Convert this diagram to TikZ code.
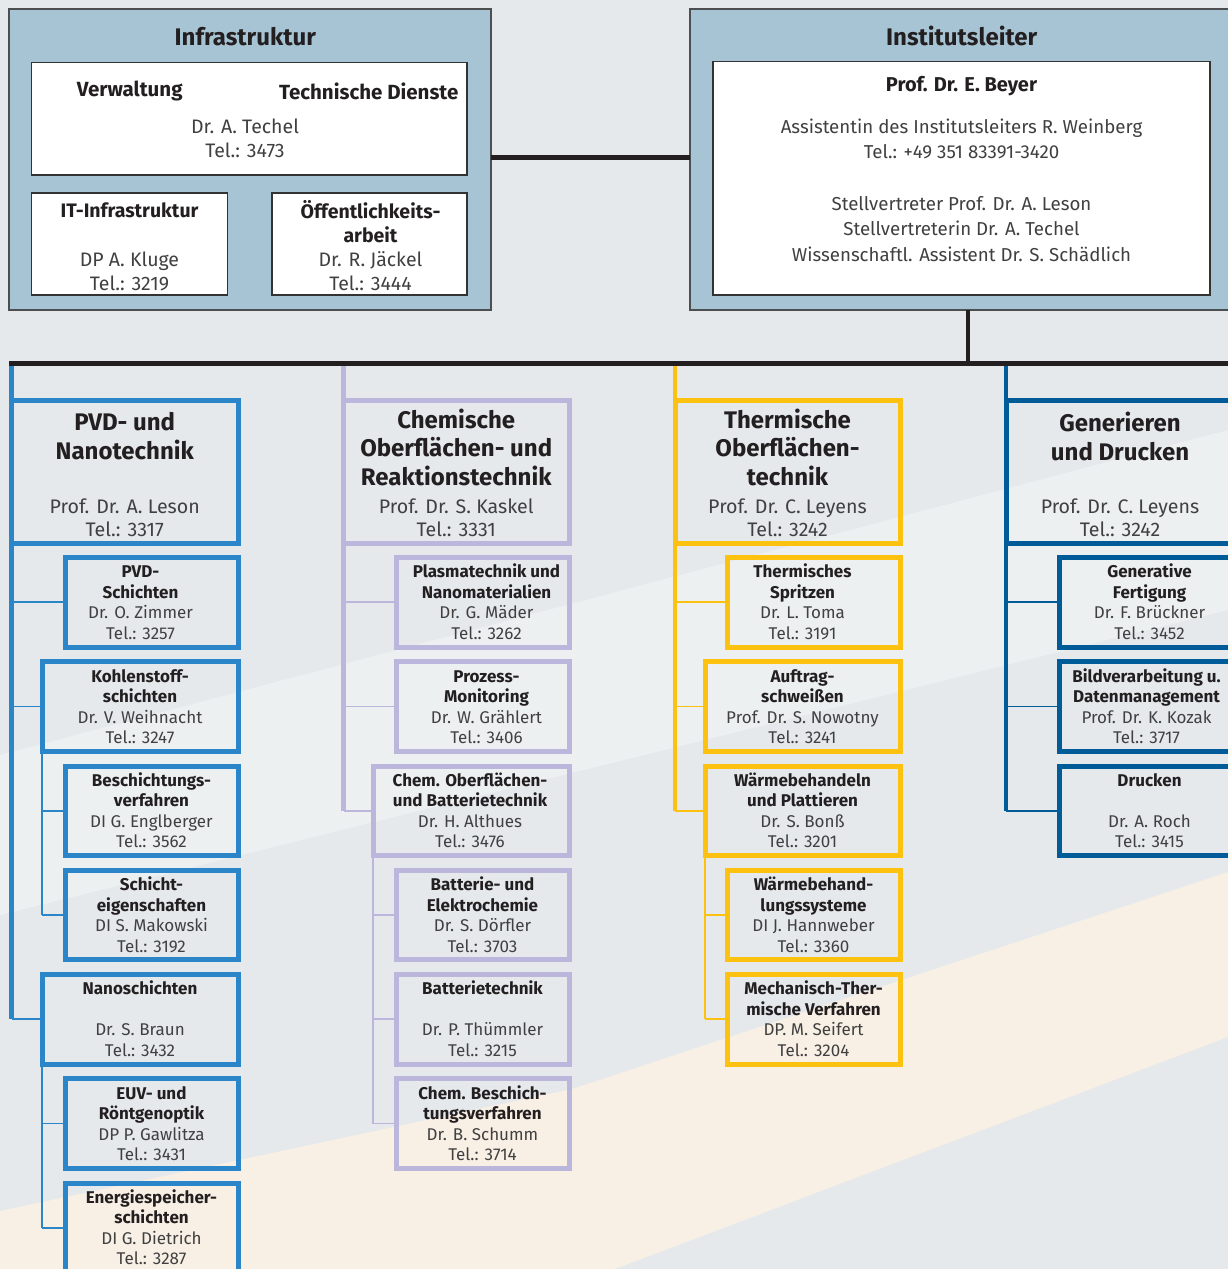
\documentclass[tikz,border=0pt]{standalone}
\usepackage{fontspec}
\setmainfont{Fira Sans}
\usetikzlibrary{calc}
\definecolor{bg}{HTML}{E5E9EC}
\definecolor{bandw}{HTML}{EDF0F1}
\definecolor{beige}{HTML}{F8EFE5}
\definecolor{topfill}{HTML}{A7C4D5}
\definecolor{frame}{HTML}{4D4E50}
\definecolor{innerframe}{HTML}{333333}
\definecolor{cA}{HTML}{2A86C8}
\definecolor{cB}{HTML}{BBB6DC}
\definecolor{cC}{HTML}{FDC20F}
\definecolor{cD}{HTML}{005C98}
\definecolor{ink}{HTML}{231F20}
\definecolor{bodyc}{HTML}{404040}
\newcommand\tb[1]{{\bfseries\color{ink}#1}}
\tikzset{
  every node/.style={inner sep=0pt, outer sep=0pt},
  frameouter/.style={draw=frame, line width=2pt, fill=topfill},
  frameinner/.style={draw=innerframe, line width=1.8pt, fill=white},
  headbox/.style={draw=#1, line width=5pt},
  subbox/.style={draw=#1, line width=5pt},
  mainline/.style={draw=#1, line width=4.5pt},
  subline/.style={draw=#1, line width=2.7pt},
  branch/.style={draw=#1, line width=1.8pt},
  topconn/.style={draw=ink, line width=5pt},
  barline/.style={draw=ink, line width=5.5pt},
  vconn/.style={draw=ink, line width=4pt},
  toptitle/.style={font=\fontsize{24}{28}\selectfont\bfseries, text=ink},
  topbold/.style={font=\fontsize{20.5}{24}\selectfont\bfseries, text=ink},
  topbody/.style={font=\fontsize{19.5}{24.3}\selectfont, text=bodyc, align=center},
  instbody/.style={font=\fontsize{18.7}{25.6}\selectfont, text=bodyc, align=center},
  headtitle/.style={font=\fontsize{24}{28.5}\selectfont\bfseries, text=ink, align=center},
  headbody/.style={font=\fontsize{19.6}{23.4}\selectfont, text=bodyc, align=center},
  subtxt/.style={font=\fontsize{17}{20.5}\selectfont, text=bodyc, align=center}
}
% sub box: color, name, left, right, top, dx, text
\newcommand\ob[7]{%
  \node[subbox=#1, minimum width={#4-#3}, minimum height=89.5, anchor=north west] (#2) at (#3,#5) {};
  \node[subtxt] (#2t) at ([xshift=#6pt, yshift=-2.2pt]#2.center) {\strut#7\strut};
}
\begin{document}
\begin{tikzpicture}[x=1pt,y=-1pt]
\useasboundingbox (0,0) rectangle (1228,1269);
\clip (0,0) rectangle (1228,1269);
% background
\fill[bg] (0,0) rectangle (1228,1269);
\fill[bandw] (0,755) -- (1228,430) -- (1228,610) -- (0,915) -- cycle;
\fill[beige] (0,1211) -- (572,1089) -- (1228,872) -- (1228,1037) -- (615,1269) -- (0,1269) -- cycle;

% ---------- Infrastruktur ----------
\node[frameouter, minimum width=482, minimum height=300.5, anchor=north west] (infra) at (9,9) {};
\node[toptitle, anchor=base] (infraT) at (245.3,45.7) {Infrastruktur};
\node[frameinner, minimum width=435.8, minimum height=112.7, anchor=north west] (verw) at (31.5,62.5) {};
\node[topbold, anchor=base] (verwT) at (129.7,96.7) {Verwaltung};
\node[topbold, anchor=base] (techT) at (368.7,99) {Technische Dienste};
\node[topbody] (verwB) at (245,140.5) {\strut Dr. A. Techel\\Tel.: 3473\strut};
\node[frameinner, minimum width=196, minimum height=102.3, anchor=north west] (itb) at (31.5,193) {};
\node[topbody] (itT) at (129.5,249.1) {\strut\tb{IT-Infrastruktur}\\\mbox{}\\DP A. Kluge\\Tel.: 3219\strut};
\node[frameinner, minimum width=195.6, minimum height=102.3, anchor=north west] (oeff) at (271.7,193) {};
\node[topbody] (oeffT) at (370.5,249.1) {\strut\tb{Öffentlichkeits-}\\\tb{arbeit}\\Dr. R. Jäckel\\Tel.: 3444\strut};

% ---------- Institutsleiter ----------
\node[frameouter, minimum width=556, minimum height=300.5, anchor=north west] (inst) at (690.3,9) {};
\node[toptitle, anchor=base] (instT) at (961.7,45.7) {Institutsleiter};
\node[frameinner, minimum width=497, minimum height=233.2, anchor=north west] (instin) at (713,61.5) {};
\node[topbold, anchor=base, font=\fontsize{20}{24}\selectfont\bfseries] (beyer) at (961.5,91.7) {Prof. Dr. E. Beyer};
\node[instbody] (instB) at (961.5,192.2) {\strut Assistentin des Institutsleiters R. Weinberg\\Tel.: +49 351 83391-3420\\\mbox{}\\Stellvertreter Prof. Dr. A. Leson\\Stellvertreterin Dr. A. Techel\\Wissenschaftl. Assistent Dr. S. Schädlich\strut};

% ---------- top connectors ----------
\draw[topconn] ([yshift=1.75pt]infra.east) -- ([yshift=1.75pt]infra.east -| inst.west);
\coordinate (barL) at (9,363.5);
\coordinate (barR) at (1240,363.5);
\draw[vconn] (inst.south) -- (inst.south |- barL);

% ---------- Column A ----------
\coordinate (vA) at (11.5,363.5);
\node[headbox=cA, minimum width=226.5, minimum height=143, anchor=north west] (headA) at (11.5,400) {};
\node[headtitle] (headAT) at (124.75,439.25) {\strut PVD- und\\Nanotechnik\strut};
\node[headbody] (headAB) at (124.75,520.3) {\strut Prof. Dr. A. Leson\\Tel.: 3317\strut};
\ob{cA}{pvd}{65}{238}{557.5}{-11}{\tb{PVD-}\\\tb{Schichten}\\Dr. O. Zimmer\\Tel.: 3257}
\ob{cA}{kohl}{42}{238}{661.75}{0}{\tb{Kohlenstoff-}\\\tb{schichten}\\Dr. V. Weihnacht\\Tel.: 3247}
\ob{cA}{besch}{65}{238}{766}{0}{\tb{Beschichtungs-}\\\tb{verfahren}\\DI G. Englberger\\Tel.: 3562}
\ob{cA}{schicht}{65}{238}{870.25}{0}{\tb{Schicht-}\\\tb{eigenschaften}\\DI S. Makowski\\Tel.: 3192}
\ob{cA}{nano}{42}{238}{974.5}{0}{\tb{Nanoschichten}\\\mbox{}\\Dr. S. Braun\\Tel.: 3432}
\ob{cA}{euv}{65}{238}{1078.75}{0}{\tb{EUV- und}\\\tb{Röntgenoptik}\\DP P. Gawlitza\\Tel.: 3431}
\ob{cA}{energ}{65}{238}{1183}{0}{\tb{Energiespeicher-}\\\tb{schichten}\\DI G. Dietrich\\Tel.: 3287}
\draw[mainline=cA] (vA) -- (nano.west -| vA);
\foreach \n in {pvd,kohl,nano} \draw[branch=cA] (\n.west) -- (\n.west -| vA);
\draw[subline=cA] (kohl.south west) -- (schicht.west -| kohl.south west);
\foreach \n in {besch,schicht} \draw[branch=cA] (\n.west) -- (\n.west -| kohl.south west);
\draw[subline=cA] (nano.south west) -- (energ.west -| nano.south west);
\foreach \n in {euv,energ} \draw[branch=cA] (\n.west) -- (\n.west -| nano.south west);

% ---------- Column B ----------
\coordinate (vB) at (343.5,363.5);
\node[headbox=cB, minimum width=225.5, minimum height=143, anchor=north west] (headB) at (343.5,400) {};
\node[headtitle] (headBT) at (456.25,451.1) {\strut Chemische\\Oberflächen- und\\Reaktionstechnik\strut};
\node[headbody] (headBB) at (456.25,520.3) {\strut Prof. Dr. S. Kaskel\\Tel.: 3331\strut};
\ob{cB}{plasma}{396}{569}{557.5}{4}{\tb{Plasmatechnik und}\\\tb{Nanomaterialien}\\Dr. G. Mäder\\Tel.: 3262}
\ob{cB}{prozess}{396}{569}{661.75}{4}{\tb{Prozess-}\\\tb{Monitoring}\\Dr. W. Grählert\\Tel.: 3406}
\ob{cB}{chemo}{373}{569}{766}{-1}{\tb{Chem. Oberflächen-}\\\tb{und Batterietechnik}\\Dr. H. Althues\\Tel.: 3476}
\ob{cB}{batt}{396}{569}{870.25}{0}{\tb{Batterie- und}\\\tb{Elektrochemie}\\Dr. S. Dörfler\\Tel.: 3703}
\ob{cB}{batttech}{396}{569}{974.5}{0}{\tb{Batterietechnik}\\\mbox{}\\Dr. P. Thümmler\\Tel.: 3215}
\ob{cB}{chemb}{396}{569}{1078.75}{0}{\tb{Chem. Beschich-}\\\tb{tungsverfahren}\\Dr. B. Schumm\\Tel.: 3714}
\draw[mainline=cB] (vB) -- (chemo.west -| vB);
\foreach \n in {plasma,prozess,chemo} \draw[branch=cB] (\n.west) -- (\n.west -| vB);
\draw[subline=cB] (chemo.south west) -- (chemb.west -| chemo.south west);
\foreach \n in {batt,batttech,chemb} \draw[branch=cB] (\n.west) -- (\n.west -| chemo.south west);

% ---------- Column C ----------
\coordinate (vC) at (675,363.5);
\node[headbox=cC, minimum width=225, minimum height=143, anchor=north west] (headC) at (675,400) {};
\node[headtitle] (headCT) at (787.5,451.1) {\strut Thermische\\Oberflächen-\\technik\strut};
\node[headbody] (headCB) at (787.5,520.3) {\strut Prof. Dr. C. Leyens\\Tel.: 3242\strut};
\ob{cC}{thsp}{727}{900}{557.5}{-11}{\tb{Thermisches}\\\tb{Spritzen}\\Dr. L. Toma\\Tel.: 3191}
\ob{cC}{auft}{705}{900}{661.75}{0}{\tb{Auftrag-}\\\tb{schweißen}\\Prof. Dr. S. Nowotny\\Tel.: 3241}
\ob{cC}{waerm}{705}{900}{766}{0}{\tb{Wärmebehandeln}\\\tb{und Plattieren}\\Dr. S. Bonß\\Tel.: 3201}
\ob{cC}{wsys}{727}{900}{870.25}{0}{\tb{Wärmebehand-}\\\tb{lungssysteme}\\DI J. Hannweber\\Tel.: 3360}
\ob{cC}{mech}{727}{900}{974.5}{0}{\tb{Mechanisch-Ther-}\\\tb{mische Verfahren}\\DP. M. Seifert\\Tel.: 3204}
\draw[mainline=cC] (vC) -- (waerm.west -| vC);
\foreach \n in {thsp,auft,waerm} \draw[branch=cC] (\n.west) -- (\n.west -| vC);
\draw[subline=cC] (waerm.south west) -- (mech.west -| waerm.south west);
\foreach \n in {wsys,mech} \draw[branch=cC] (\n.west) -- (\n.west -| waerm.south west);

% ---------- Column D ----------
\coordinate (vD) at (1006,363.5);
\node[headbox=cD, minimum width=228, minimum height=143, anchor=north west] (headD) at (1006,400) {};
\node[headtitle] (headDT) at (1120,440.25) {\strut Generieren\\und Drucken\strut};
\node[headbody] (headDB) at (1120,520.3) {\strut Prof. Dr. C. Leyens\\Tel.: 3242\strut};
\ob{cD}{gen}{1059}{1240}{557.5}{0}{\tb{Generative}\\\tb{Fertigung}\\Dr. F. Brückner\\Tel.: 3452}
\ob{cD}{bild}{1059}{1240}{661.75}{-3}{\tb{Bildverarbeitung u.}\\\tb{Datenmanagement}\\Prof. Dr. K. Kozak\\Tel.: 3717}
\ob{cD}{druck}{1059}{1240}{766}{0}{\tb{Drucken}\\\mbox{}\\Dr. A. Roch\\Tel.: 3415}
\draw[mainline=cD] (vD) -- (druck.west -| vD);
\foreach \n in {gen,bild,druck} \draw[branch=cD] (\n.west) -- (\n.west -| vD);

% ---------- bar ----------
\draw[barline] (barL) -- (barR);
\end{tikzpicture}
\end{document}
